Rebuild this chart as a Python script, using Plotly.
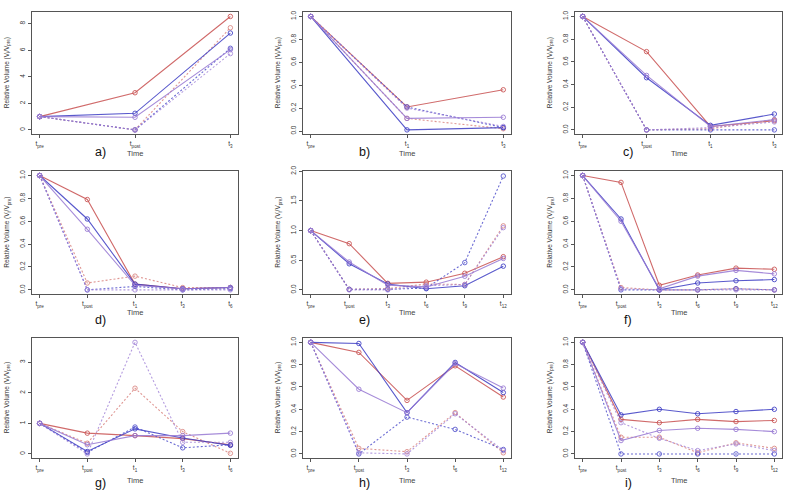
import plotly.graph_objects as go

# ---- tick labels (time points) ----
x_a = ["pre", "post", "3"]
x_b = ["pre", "1", "3"]
x_c = ["pre", "post", "1", "3"]
x_d = ["pre", "post", "1", "3", "6"]
x_e = ["pre", "post", "3", "6", "9", "12"]
x_f = ["pre", "post", "3", "6", "9", "12"]
x_g = ["pre", "post", "1", "3", "6"]
x_h = ["pre", "post", "3", "6", "12"]
x_i = ["pre", "post", "3", "6", "9", "12"]

# ---- series values: red / blue / purple, solid and dashed ----
a_red = [1, 2.8, 8.55];        a_red_d = [1, 0.0, 7.7]
a_blue = [1, 1.25, 7.3];       a_blue_d = [1, 0.0, 6.15]
a_purple = [1, 0.95, 6.05];    a_purple_d = [1, 0.0, 5.75]

b_red = [1, 0.21, 0.36];       b_red_d = [1, 0.11, 0.02]
b_blue = [1, 0.01, 0.03];      b_blue_d = [1, 0.21, 0.03]
b_purple = [1, 0.11, 0.12];    b_purple_d = [1, 0.20, 0.04]

c_red = [1, 0.69, 0.03, 0.08];    c_red_d = [1, 0.0, 0.01, 0.09]
c_blue = [1, 0.46, 0.04, 0.14];   c_blue_d = [1, 0.0, 0.0, 0.0]
c_purple = [1, 0.48, 0.03, 0.09]; c_purple_d = [1, 0.0, 0.02, 0.07]

d_red = [1, 0.79, 0.05, 0.01, 0.02];    d_red_d = [1, 0.06, 0.12, 0.02, 0.02]
d_blue = [1, 0.62, 0.05, 0.01, 0.02];   d_blue_d = [1, 0.0, 0.03, 0.0, 0.01]
d_purple = [1, 0.53, 0.04, 0.01, 0.02]; d_purple_d = [1, 0.0, 0.0, 0.0, 0.0]

e_red = [1, 0.78, 0.11, 0.13, 0.28, 0.56];    e_red_d = [1, 0.01, 0.02, 0.10, 0.09, 1.08]
e_blue = [1, 0.44, 0.10, 0.02, 0.07, 0.40];   e_blue_d = [1, 0.01, 0.01, 0.03, 0.46, 1.92]
e_purple = [1, 0.47, 0.08, 0.05, 0.23, 0.53]; e_purple_d = [1, 0.0, 0.0, 0.07, 0.09, 1.05]

f_red = [1, 0.94, 0.04, 0.13, 0.19, 0.18];    f_red_d = [1, 0.02, 0.0, 0.0, 0.01, 0.0]
f_blue = [1, 0.62, 0.0, 0.06, 0.08, 0.09];    f_blue_d = [1, 0.0, 0.0, 0.0, 0.01, 0.0]
f_purple = [1, 0.60, 0.01, 0.12, 0.17, 0.14]; f_purple_d = [1, 0.01, 0.0, 0.0, 0.0, 0.0]

g_red = [1, 0.68, 0.60, 0.50, 0.30];    g_red_d = [1, 0.35, 2.15, 0.73, 0.02]
g_blue = [1, 0.08, 0.82, 0.52, 0.28];   g_blue_d = [1, 0.05, 0.88, 0.20, 0.30]
g_purple = [1, 0.30, 0.60, 0.60, 0.68]; g_purple_d = [1, 0.0, 3.65, 0.38, 0.38]

h_red = [1, 0.91, 0.48, 0.79, 0.51];    h_red_d = [1, 0.05, 0.02, 0.37, 0.01]
h_blue = [1, 0.99, 0.37, 0.82, 0.55];   h_blue_d = [1, 0.0, 0.33, 0.22, 0.04]
h_purple = [1, 0.58, 0.37, 0.81, 0.59]; h_purple_d = [1, 0.01, 0.0, 0.36, 0.03]

i_red = [1, 0.31, 0.28, 0.31, 0.29, 0.30];    i_red_d = [1, 0.15, 0.15, 0.01, 0.10, 0.05]
i_blue = [1, 0.35, 0.40, 0.36, 0.38, 0.40];   i_blue_d = [1, 0.0, 0.0, 0.0, 0.0, 0.0]
i_purple = [1, 0.12, 0.21, 0.23, 0.22, 0.20]; i_purple_d = [1, 0.28, 0.14, 0.03, 0.09, 0.03]

y_ticks_a = [0, 2, 4, 6, 8]
y_ticks_unit = [0, 0.2, 0.4, 0.6, 0.8, 1.0]
y_ticks_e = [0, 0.5, 1.0, 1.5, 2.0]
y_ticks_g = [0, 1, 2, 3]

panels = [
    ("a)", x_a, [a_red, a_red_d, a_blue, a_blue_d, a_purple, a_purple_d], y_ticks_a, "d"),
    ("b)", x_b, [b_red, b_red_d, b_blue, b_blue_d, b_purple, b_purple_d], y_ticks_unit, ".1f"),
    ("c)", x_c, [c_red, c_red_d, c_blue, c_blue_d, c_purple, c_purple_d], y_ticks_unit, ".1f"),
    ("d)", x_d, [d_red, d_red_d, d_blue, d_blue_d, d_purple, d_purple_d], y_ticks_unit, ".1f"),
    ("e)", x_e, [e_red, e_red_d, e_blue, e_blue_d, e_purple, e_purple_d], y_ticks_e, ".1f"),
    ("f)", x_f, [f_red, f_red_d, f_blue, f_blue_d, f_purple, f_purple_d], y_ticks_unit, ".1f"),
    ("g)", x_g, [g_red, g_red_d, g_blue, g_blue_d, g_purple, g_purple_d], y_ticks_g, "d"),
    ("h)", x_h, [h_red, h_red_d, h_blue, h_blue_d, h_purple, h_purple_d], y_ticks_unit, ".1f"),
    ("i)", x_i, [i_red, i_red_d, i_blue, i_blue_d, i_purple, i_purple_d], y_ticks_unit, ".1f"),
]

styles = [
    ("rgba(200,80,80,0.85)", "solid"),
    ("rgba(215,125,120,0.8)", "2px,2px"),
    ("rgba(60,60,195,0.85)", "solid"),
    ("rgba(70,70,200,0.8)", "2px,2px"),
    ("rgba(150,120,210,0.85)", "solid"),
    ("rgba(160,130,215,0.8)", "2px,2px"),
]

W, H = 787, 491
cols = [(32, 238), (303, 511), (575, 782)]
rows = [(6, 130), (167, 292), (336, 458)]
time_off = [19, 18, 22]
label_y = [148, 318, 483]
label_x = [100, 364, 628]

FONT = "Liberation Sans, Arial, sans-serif"
fig = go.Figure()
annotations = []
layout = {}

for k, (lab, xs, series, yt, fmt) in enumerate(panels):
    r, c = divmod(k, 3)
    x0, x1 = cols[c]
    y0, y1 = rows[r]
    ax = "" if k == 0 else str(k + 1)
    n = len(xs)
    xv = list(range(n))
    allv = [v for s in series for v in s]
    lo, hi = min(allv), max(allv)
    pad = 0.04 * (hi - lo)
    top = max(hi + pad, max(yt) + 0.003 * (hi - lo))
    for s, (col, dash) in zip(series, styles):
        fig.add_trace(go.Scatter(
            x=xv, y=s, mode="lines+markers", xaxis="x" + ax, yaxis="y" + ax,
            line=dict(color=col, width=1.1, dash=dash),
            marker=dict(symbol="circle-open", size=4.5, color=col, line=dict(width=1)),
            showlegend=False, hoverinfo="skip", cliponaxis=False))
    common = dict(showline=True, linecolor="#555", linewidth=1, mirror=True,
                  ticks="outside", ticklen=3, tickcolor="#555", showgrid=False,
                  zeroline=False, tickfont=dict(size=6.5, color="#333", family=FONT))
    layout["xaxis" + ax] = dict(
        domain=[x0 / W, x1 / W], anchor="y" + ax,
        range=[-0.04 * (n - 1), (n - 1) * 1.04],
        tickvals=xv, ticktext=["t<sub>%s</sub>" % t for t in xs], **common)
    layout["yaxis" + ax] = dict(
        domain=[1 - y1 / H, 1 - y0 / H], anchor="x" + ax,
        range=[lo - pad, top], tickvals=yt, tickformat=fmt,
        tickangle=-90, **common)
    annotations.append(dict(
        text="Relative Volume (V<sub>i</sub>/V<sub>pre</sub>)", textangle=-90,
        x=(x0 - 25) / W, y=1 - (y0 + y1) / 2 / H, xref="paper", yref="paper",
        showarrow=False, xanchor="center", yanchor="middle",
        font=dict(size=6.5, color="#333", family=FONT)))
    annotations.append(dict(
        text="Time", x=(x0 + x1) / 2 / W, y=1 - (y1 + time_off[r]) / H,
        xref="paper", yref="paper", showarrow=False,
        xanchor="center", yanchor="middle",
        font=dict(size=7.5, color="#444", family=FONT)))
    annotations.append(dict(
        text=lab, x=label_x[c] / W, y=1 - label_y[r] / H,
        xref="paper", yref="paper", showarrow=False,
        xanchor="center", yanchor="middle",
        font=dict(size=12.5, color="#111", family=FONT)))

fig.update_layout(width=W, height=H, margin=dict(l=0, r=0, t=0, b=0),
                  paper_bgcolor="white", plot_bgcolor="white",
                  annotations=annotations, **layout)
fig.write_html("out.html", config={"displayModeBar": False},
               post_script="document.body.style.margin='0';document.body.style.overflow='hidden';")
